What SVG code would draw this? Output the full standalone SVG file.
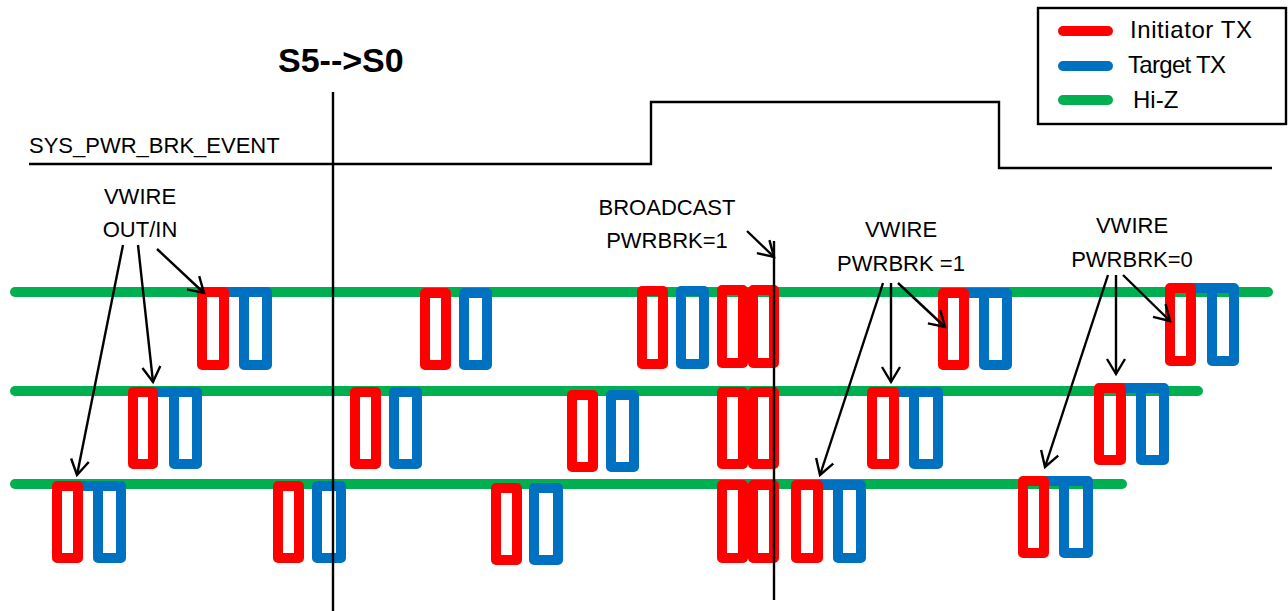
<svg xmlns="http://www.w3.org/2000/svg" width="1288" height="611" viewBox="0 0 1288 611">
<style>
.t{font-family:"Liberation Sans",Arial,sans-serif;font-size:22px;fill:#000}
.lg{font-family:"Liberation Sans",Arial,sans-serif;font-size:24px;fill:#000}
.hiz{stroke:#00B050;stroke-width:10;stroke-linecap:round;fill:none}
.r{stroke:#FF0000;stroke-width:10;fill:none;stroke-linejoin:round}
.b{stroke:#0070C0;stroke-width:10;fill:none;stroke-linejoin:round}
.bl{stroke:#0070C0;stroke-width:10;fill:none;stroke-linecap:butt}
.k{stroke:#000;stroke-width:2.4;fill:none}
.arr{stroke:#000;stroke-width:2.4;fill:none;marker-end:url(#ah)}
</style>
<defs>
<marker id="ah" markerUnits="userSpaceOnUse" markerWidth="30" markerHeight="30" refX="0" refY="0" viewBox="-20 -15 30 30" orient="auto" overflow="visible">
<path d="M-15,-9 L0,0 L-15,9" fill="none" stroke="#000" stroke-width="2.4"/>
</marker>
</defs>
<rect width="1288" height="611" fill="#fff"/>

<g id="legend">
<rect x="1038" y="8" width="248" height="116" fill="#fff" stroke="#000" stroke-width="2.4"/>
<line x1="1063" y1="31" x2="1108" y2="31" stroke="#FF0000" stroke-width="10" stroke-linecap="round"/>
<line x1="1063" y1="66" x2="1108" y2="66" stroke="#0070C0" stroke-width="10" stroke-linecap="round"/>
<line x1="1063" y1="100" x2="1108" y2="100" stroke="#00B050" stroke-width="10" stroke-linecap="round"/>
<text class="lg" x="1130" y="38" textLength="122">Initiator TX</text>
<text class="lg" x="1128" y="73" textLength="98">Target TX</text>
<text class="lg" x="1133" y="108">Hi-Z</text>
</g>

<g id="hiz-lines">
<line class="hiz" x1="15" y1="292" x2="1268" y2="292"/>
<line class="hiz" x1="15" y1="391" x2="1198" y2="391"/>
<line class="hiz" x1="15" y1="484" x2="1122" y2="484"/>
</g>

<g id="signal">
<text class="t" x="29" y="153">SYS_PWR_BRK_EVENT</text>
<polyline class="k" points="29,164 651,164 651,102 999,102 999,168 1272,168"/>
</g>

<g id="packets">
<line class="bl" x1="215" y1="292" x2="250" y2="292"/>
<line class="bl" x1="955" y1="293" x2="990" y2="293"/>
<line class="bl" x1="1183" y1="288" x2="1218" y2="288"/>
<line class="bl" x1="145" y1="392" x2="180" y2="392"/>
<line class="bl" x1="885" y1="392" x2="920" y2="392"/>
<line class="bl" x1="1112" y1="388" x2="1147" y2="388"/>
<line class="bl" x1="70" y1="486" x2="104" y2="486"/>
<line class="bl" x1="809" y1="485" x2="844" y2="485"/>
<line class="bl" x1="1036" y1="481" x2="1070" y2="481"/>
<rect class="b" x="244" y="292" width="23" height="73"/>
<rect class="b" x="464" y="293" width="23" height="72"/>
<rect class="b" x="681" y="291" width="23" height="73"/>
<rect class="b" x="984" y="293" width="23" height="72"/>
<rect class="b" x="1212" y="288" width="22" height="73"/>
<rect class="b" x="174" y="392" width="23" height="72"/>
<rect class="b" x="394" y="392" width="23" height="72"/>
<rect class="b" x="611" y="395" width="23" height="72"/>
<rect class="b" x="914" y="392" width="24" height="72"/>
<rect class="b" x="1141" y="388" width="23" height="72"/>
<rect class="b" x="98" y="486" width="23" height="72"/>
<rect class="b" x="317" y="486" width="24" height="72"/>
<rect class="b" x="534" y="488" width="24" height="72"/>
<rect class="b" x="838" y="485" width="23" height="73"/>
<rect class="b" x="1064" y="481" width="24" height="72"/>
<rect class="r" x="202" y="292" width="22" height="73"/>
<rect class="r" x="425" y="293" width="21" height="72"/>
<rect class="r" x="642" y="291" width="21" height="73"/>
<rect class="r" x="722" y="290" width="21" height="73"/>
<rect class="r" x="753" y="290" width="21" height="73"/>
<rect class="r" x="943" y="293" width="21" height="72"/>
<rect class="r" x="1170" y="288" width="21" height="73"/>
<rect class="r" x="133" y="392" width="20" height="72"/>
<rect class="r" x="355" y="392" width="21" height="72"/>
<rect class="r" x="572" y="395" width="21" height="72"/>
<rect class="r" x="722" y="392" width="21" height="72"/>
<rect class="r" x="753" y="392" width="21" height="72"/>
<rect class="r" x="872" y="392" width="22" height="72"/>
<rect class="r" x="1099" y="388" width="22" height="72"/>
<rect class="r" x="57" y="486" width="21" height="72"/>
<rect class="r" x="278" y="486" width="21" height="72"/>
<rect class="r" x="496" y="488" width="21" height="72"/>
<rect class="r" x="722" y="485" width="21" height="73"/>
<rect class="r" x="753" y="485" width="21" height="73"/>
<rect class="r" x="796" y="485" width="22" height="73"/>
<rect class="r" x="1023" y="481" width="21" height="72"/>
</g>

<g id="s5-s0">
<text x="278" y="72" font-family="Liberation Sans,Arial,sans-serif" font-size="34" font-weight="bold">S5--&gt;S0</text>
<line class="k" x1="333" y1="92" x2="333" y2="611"/>
</g>

<g id="broadcast">
<text class="t" x="667" y="215" text-anchor="middle">BROADCAST</text>
<text class="t" x="667" y="248" text-anchor="middle">PWRBRK=1</text>
<line class="k" x1="774" y1="241" x2="774" y2="600"/>
</g>

<g id="vwire-outin">
<text class="t" x="140" y="204" text-anchor="middle">VWIRE</text>
<text class="t" x="140" y="237" text-anchor="middle">OUT/IN</text>
</g>

<g id="vwire-pwrbrk1">
<text class="t" x="901" y="237" text-anchor="middle">VWIRE</text>
<text class="t" x="901" y="271" text-anchor="middle">PWRBRK =1</text>
</g>

<g id="vwire-pwrbrk0">
<text class="t" x="1132" y="233" text-anchor="middle">VWIRE</text>
<text class="t" x="1132" y="267" text-anchor="middle">PWRBRK=0</text>
</g>

<g id="connectors">
<line class="arr" x1="157" y1="249" x2="204" y2="293"/>
<line class="arr" x1="138" y1="245" x2="153" y2="382"/>
<line class="arr" x1="123" y1="245" x2="77" y2="475"/>
<line class="arr" x1="747" y1="231" x2="774" y2="257"/>
<line class="arr" x1="898" y1="283" x2="945" y2="327"/>
<line class="arr" x1="891" y1="283" x2="891" y2="382"/>
<line class="arr" x1="883" y1="283" x2="820" y2="475"/>
<line class="arr" x1="1123" y1="275" x2="1170" y2="321"/>
<line class="arr" x1="1116" y1="275" x2="1116" y2="374"/>
<line class="arr" x1="1108" y1="275" x2="1045" y2="467"/>
</g>
</svg>
